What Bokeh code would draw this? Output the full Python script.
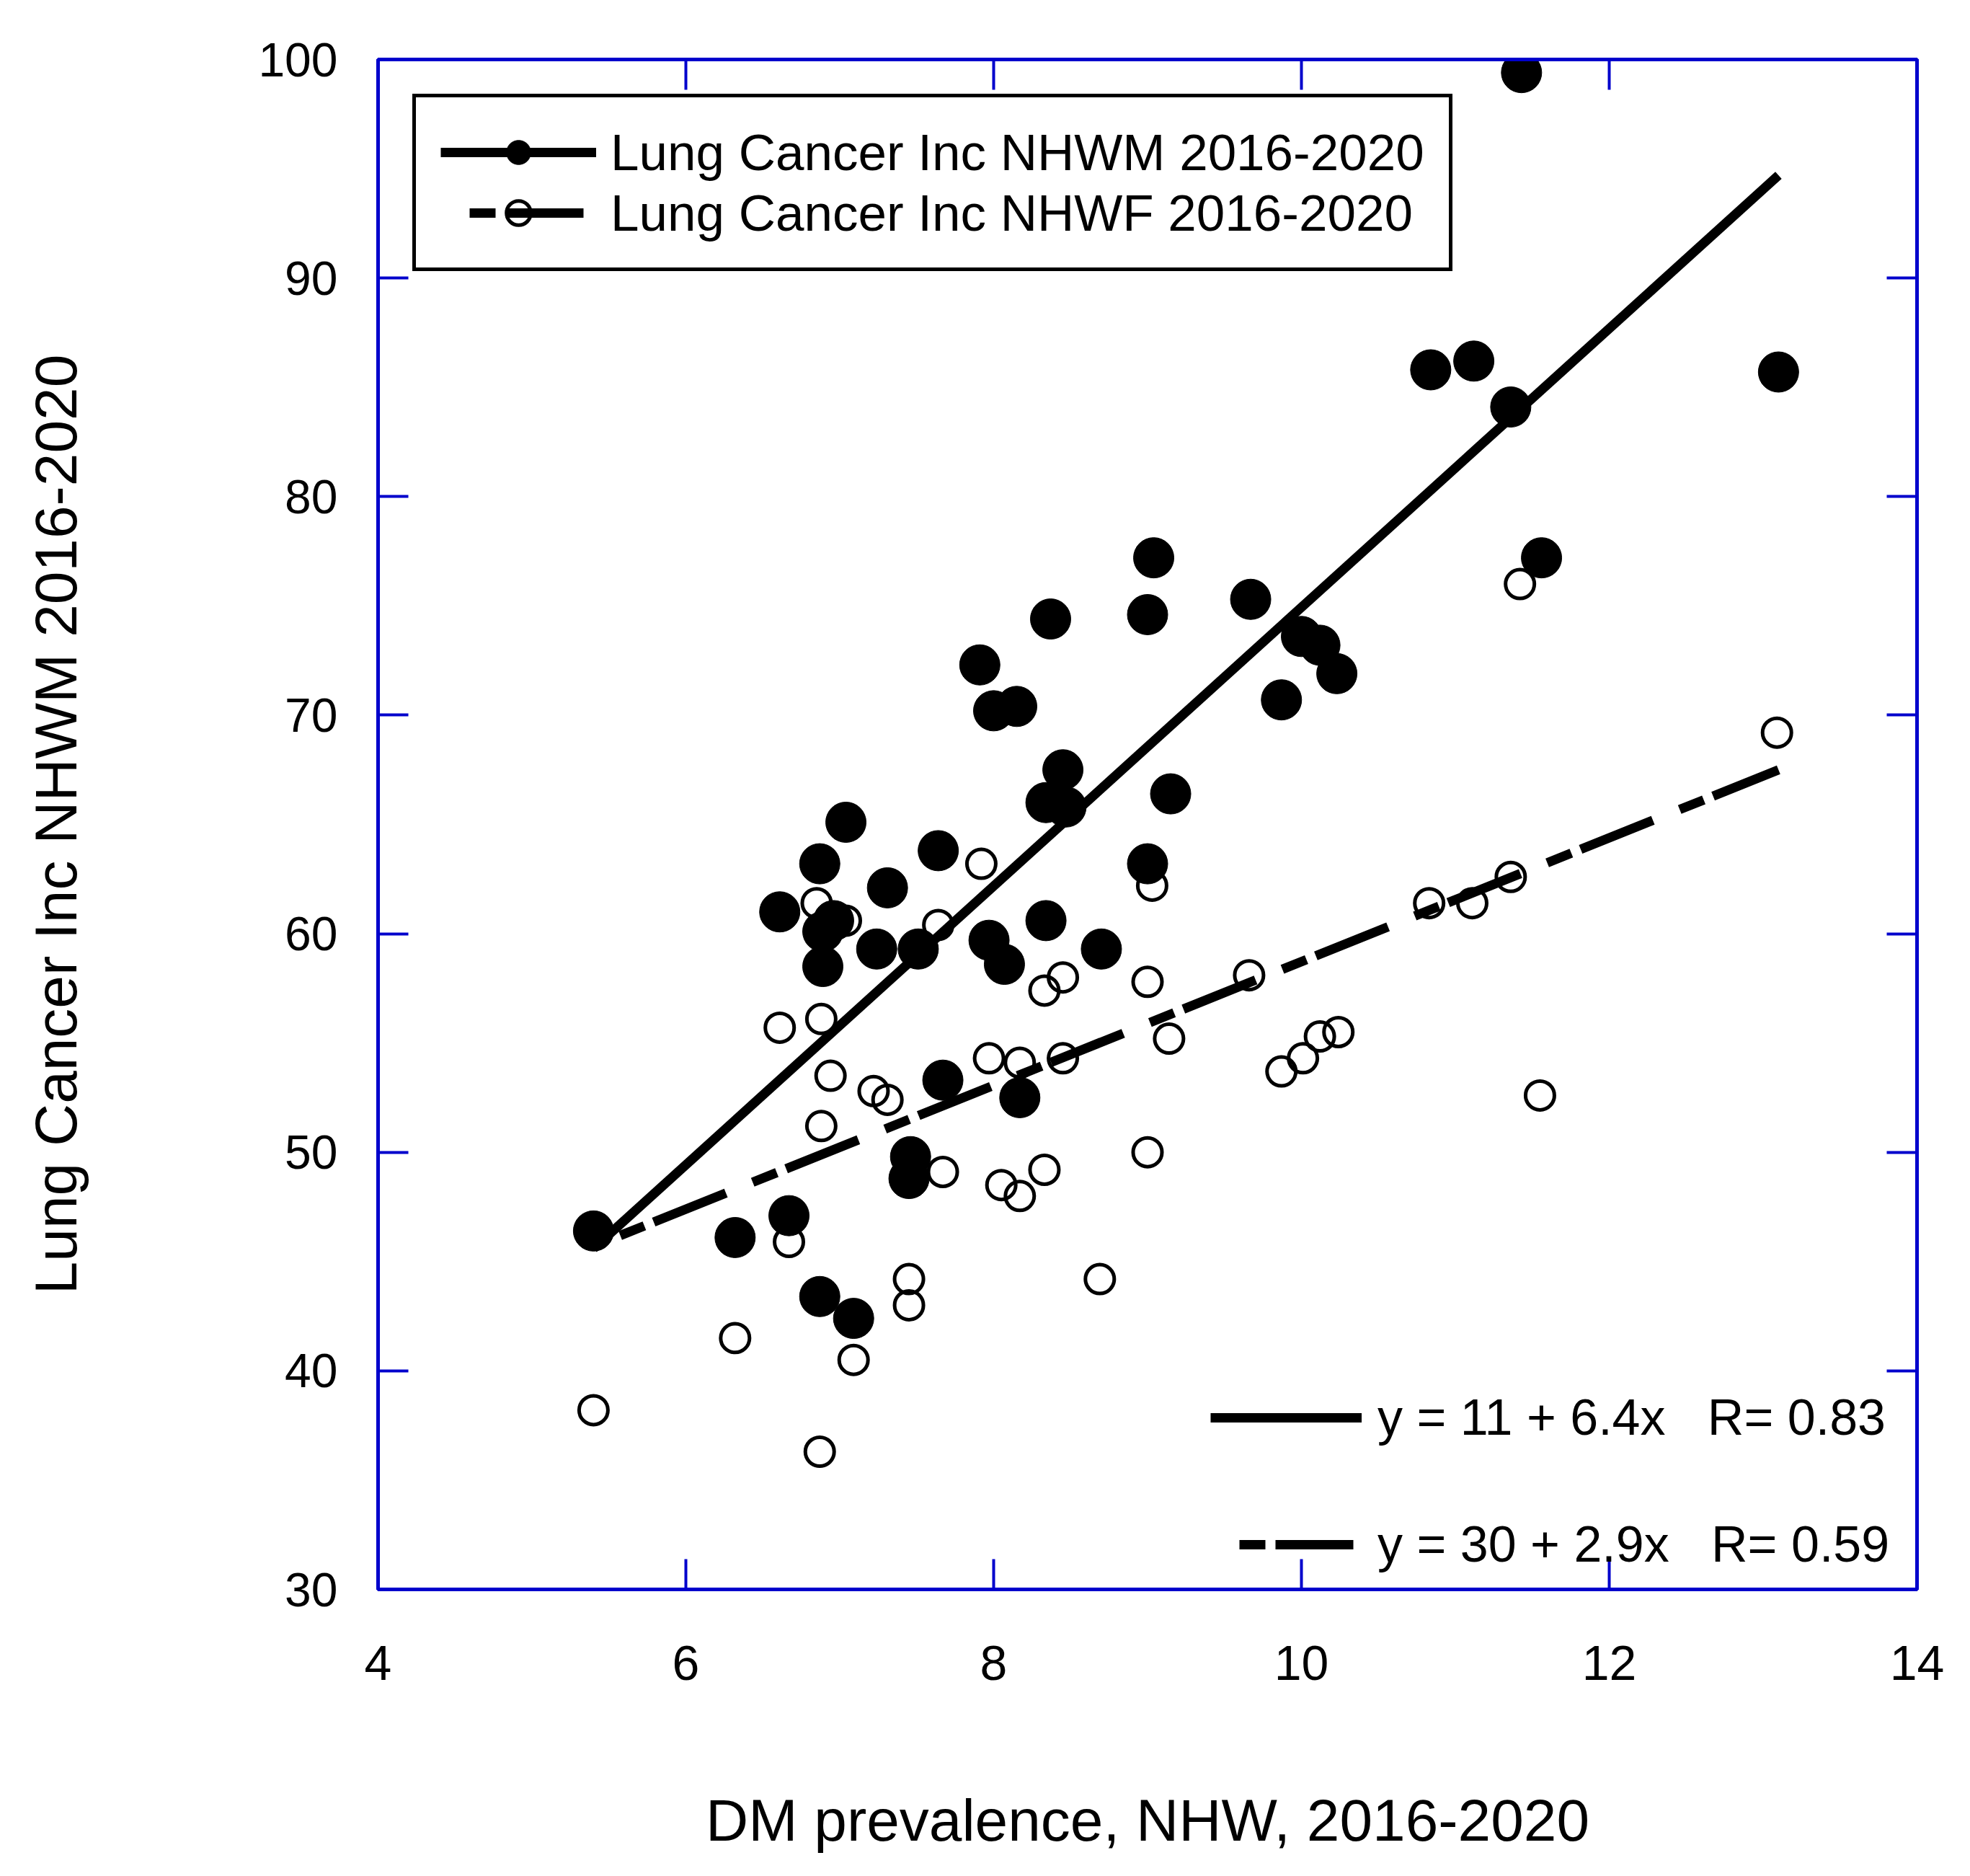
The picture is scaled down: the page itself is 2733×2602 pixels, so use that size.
from bokeh.models import Range1d, LinearAxis, FixedTicker, Legend, LegendItem
from bokeh.plotting import figure
from bokeh.embed import file_html
from bokeh.resources import INLINE

# NHWM (filled) points: DM prevalence vs lung cancer incidence
dm_m = [5.40, 6.32, 6.61, 6.67, 6.87, 6.87, 6.89, 6.89, 6.96, 7.04, 7.09, 7.24, 7.31, 7.46, 7.45,
        7.51, 7.64, 7.67, 7.91, 7.97, 8.00, 8.07, 8.15, 8.17, 8.34, 8.34, 8.37, 8.45, 8.47, 8.70,
        9.00, 9.04, 9.00, 9.15, 9.67, 9.87, 10.00, 10.12, 10.23, 10.84, 11.12, 11.36, 11.43, 11.56, 13.10]
lung_m = [46.4, 46.1, 61.0, 47.1, 63.2, 43.4, 60.1, 58.5, 60.6, 65.1, 42.4, 59.3, 62.1, 49.8, 48.8,
          59.3, 63.8, 53.3, 72.3, 59.7, 70.2, 58.6, 70.4, 52.5, 60.6, 66.0, 74.4, 67.5, 65.8, 59.3,
          74.6, 77.2, 63.2, 66.4, 75.3, 70.7, 73.6, 73.2, 71.9, 85.8, 86.2, 84.1, 99.4, 77.2, 85.7]

# NHWF (open) points
dm_f = [5.40, 6.32, 6.61, 6.67, 6.87, 6.85, 6.88, 6.88, 6.94, 7.04, 7.09, 7.22, 7.31, 7.45,
        7.45, 7.64, 7.67, 7.92, 7.97, 8.05, 8.17, 8.17, 8.33, 8.33, 8.45, 8.45, 8.69, 9.00,
        9.03, 9.00, 9.14, 9.66, 9.87, 10.01, 10.12, 10.24, 10.83, 11.11, 11.36, 11.42, 11.55, 13.09]
lung_f = [38.2, 41.5, 55.7, 45.9, 36.3, 61.4, 56.1, 51.2, 53.5, 60.6, 40.5, 52.8, 52.4, 44.2,
          43.0, 60.4, 49.1, 63.2, 54.3, 48.5, 54.1, 48.0, 57.4, 49.2, 58.0, 54.3, 44.2, 57.8,
          62.2, 50.0, 55.2, 58.1, 53.7, 54.3, 55.3, 55.5, 61.4, 61.4, 62.6, 76.0, 52.6, 69.2]

# regression lines (end points) and their printed equations
fit_x = [5.4, 13.1]
fit_m_y = [45.6, 94.7]
fit_f_y = [45.7, 67.5]
eq_m = "y = 11 + 6.4x   R= 0.83"
eq_f = "y = 30 + 2.9x   R= 0.59"

x_ticks = [4, 6, 8, 10, 12, 14]
y_ticks = [30, 40, 50, 60, 70, 80, 90, 100]

BLUE = "#0000CC"
FONT = "Liberation Sans"

p = figure(width=2714, height=2586, output_backend="svg", toolbar_location=None,
           x_range=Range1d(4, 14), y_range=Range1d(30, 100),
           min_border_left=524, min_border_right=55, min_border_top=82, min_border_bottom=382)
p.grid.visible = False
p.outline_line_color = BLUE
p.outline_line_width = 5
p.background_fill_color = "white"
p.border_fill_color = "white"

xax = p.below[0]
yax = p.left[0]
xax.axis_label = "DM prevalence, NHW, 2016-2020"
yax.axis_label = "Lung Cancer Inc NHWM 2016-2020"
xax.ticker = FixedTicker(ticks=x_ticks)
yax.ticker = FixedTicker(ticks=y_ticks)
xax.major_label_standoff = 78
yax.major_label_standoff = 56
xax.axis_label_standoff = 146
yax.axis_label_standoff = 232
xax.major_label_text_font_size = "68px"
yax.major_label_text_font_size = "66px"

# ticks on top and right as well, with empty labels
top = LinearAxis(ticker=FixedTicker(ticks=x_ticks),
                 major_label_overrides={t: "" for t in x_ticks})
right = LinearAxis(ticker=FixedTicker(ticks=y_ticks),
                   major_label_overrides={t: "" for t in y_ticks})
p.add_layout(top, "above")
p.add_layout(right, "right")

for ax in [xax, yax, top, right]:
    ax.axis_line_color = BLUE
    ax.axis_line_width = 5
    ax.major_tick_line_color = BLUE
    ax.major_tick_line_width = 4
    ax.major_tick_in = 42
    ax.major_tick_out = 0
    ax.minor_tick_line_color = None
    ax.major_label_text_font = FONT
    ax.major_label_text_color = "black"
    ax.axis_label_text_font = FONT
    ax.axis_label_text_font_style = "normal"
    ax.axis_label_text_font_size = "82px"
    ax.axis_label_text_color = "black"
top.major_label_standoff = 0
right.major_label_standoff = 0

# open markers first, then fit lines, then filled markers on top
pts_f = p.scatter(dm_f, lung_f, marker="circle", size=40, fill_color=None,
                  line_color="black", line_width=5)

line_m = p.line(fit_x, fit_m_y, line_color="black", line_width=13)
line_f = p.line(fit_x, fit_f_y, line_color="black", line_width=13,
                line_dash="36 14 108 40", line_dash_offset=158)

pts_m = p.scatter(dm_m, lung_m, marker="circle", size=56, fill_color="black",
                  line_color="black")

leg = Legend(items=[
    LegendItem(label="Lung Cancer Inc NHWM 2016-2020", renderers=[line_m, pts_m]),
    LegendItem(label="Lung Cancer Inc NHWF 2016-2020", renderers=[line_f, pts_f]),
], location="top_left", margin=48, padding=34, spacing=0,
    glyph_width=216, glyph_height=84, label_height=84, label_standoff=20,
    label_text_font=FONT, label_text_font_size="71px", label_text_color="black",
    border_line_color="black", border_line_alpha=1.0, border_line_width=5,
    background_fill_alpha=1.0)
p.add_layout(leg, "center")

eq = Legend(items=[
    LegendItem(label=eq_m, renderers=[line_m]),
    LegendItem(label=eq_f, renderers=[line_f]),
], location="bottom_right", margin=20, padding=27, spacing=92,
    glyph_width=210, glyph_height=84, label_height=84, label_standoff=22, label_width=728,
    label_text_font=FONT, label_text_font_size="70px", label_text_color="black",
    border_line_color=None, background_fill_alpha=0)
p.add_layout(eq, "center")

open("out.html", "w").write(file_html(p, INLINE))
